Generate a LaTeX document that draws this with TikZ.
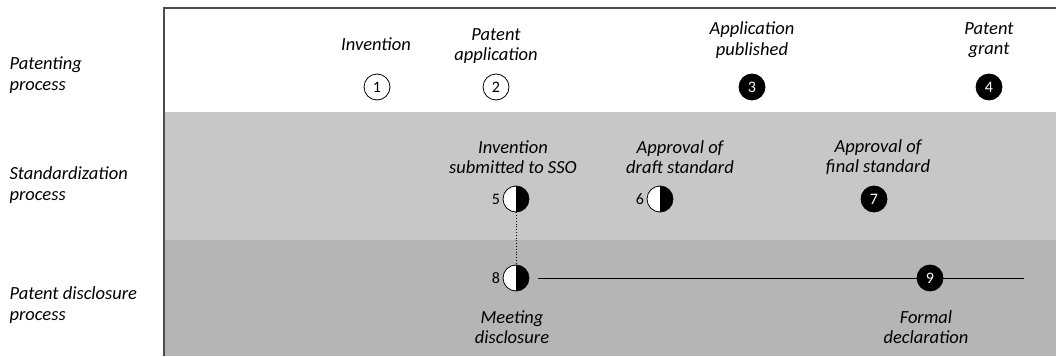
\documentclass[tikz,border=0pt]{standalone}
\usepackage{fontspec}
\setmainfont{Carlito}
\begin{document}
\begin{tikzpicture}[x=1pt,y=-1pt,
  lbl/.style={font=\itshape\fontsize{18.5}{20.5}\selectfont,align=center},
  side/.style={font=\itshape\fontsize{18.5}{20.5}\selectfont,align=left,anchor=west},
  opn/.style={circle,draw,thick,fill=white,minimum size=26pt,inner sep=0pt,font=\fontsize{16}{16}\selectfont},
  blk/.style={opn,fill=black,text=white},
  half/.style={opn,path picture={\fill[black] (path picture bounding box.north) rectangle (path picture bounding box.south east);}},
  num/.style={left,inner sep=2.5pt,font=\fontsize{16}{16}\selectfont}]
\useasboundingbox (0,0) rectangle (1056,356);
% bands
\fill[black!22] (164,112) rectangle (1056,240);
\fill[black!29] (164,240) rectangle (1056,356);
\draw[black!70,line width=1.2pt] (1056,8) -- (164,8) -- (164,356);
% row titles
\node[side] (tpat) at (6,75) {Patenting\\process};
\node[side] (tstd) at (6,185) {Standardization\\process};
\node[side] (tdis) at (6,305) {Patent disclosure\\process};
% patenting process
\node[opn] (n1) at (377,87) {1};
\node[opn] (n2) at (496,87) {2};
\node[blk] (n3) at (752,87) {3};
\node[blk] (n4) at (989,87) {4};
\node[lbl] (l1) at (376,44) {Invention};
\node[lbl] (l2) at (496,46) {Patent\\application};
\node[lbl] (l3) at (752,40) {Application\\published};
\node[lbl] (l4) at (989,40) {Patent\\grant};
% standardization process
\node[half] (n5) at (516,199) {};
\node[half] (n6) at (660,199) {};
\node[blk] (n7) at (874,199) {7};
\node[num] at (n5.west) {5};
\node[num] at (n6.west) {6};
\node[lbl] (l5) at (513,157) {Invention\\submitted to SSO};
\node[lbl] (l6) at (680,157) {Approval of\\draft standard};
\node[lbl] (l7) at (878,157) {Approval of\\final standard};
% disclosure process
\node[half] (n8) at (516,278) {};
\node[blk] (n9) at (930,278) {9};
\node[num] at (n8.west) {8};
\node[lbl] (l8) at (512,327) {Meeting\\disclosure};
\node[lbl] (l9) at (926,327) {Formal\\declaration};
\coordinate (dstart) at (538,278);
\coordinate (dend) at (1024,278);
\draw[thick] (dstart) -- (n9) -- (dend);
\draw[dotted,thick] (n5) -- (n8);
\end{tikzpicture}
\end{document}
